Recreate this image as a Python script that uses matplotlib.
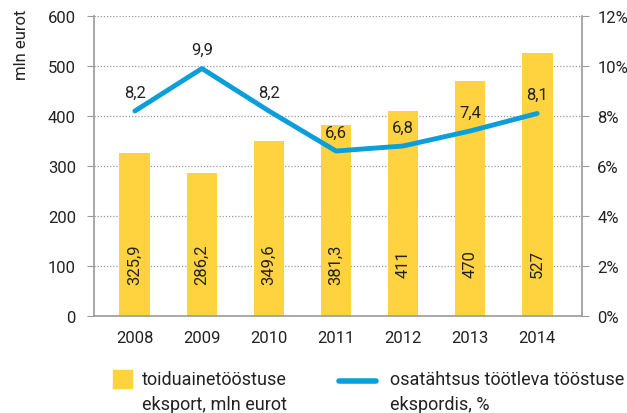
import matplotlib
matplotlib.use("Agg")
import matplotlib.pyplot as plt
from matplotlib.patches import Rectangle
from matplotlib.lines import Line2D

plt.rcParams['font.family'] = ['Roboto', 'DejaVu Sans']

years = ['2008', '2009', '2010', '2011', '2012', '2013', '2014']
export = [325.9, 286.2, 349.6, 381.3, 411, 470, 527]
export_labels = ['325,9', '286,2', '349,6', '381,3', '411', '470', '527']
share = [8.2, 9.9, 8.2, 6.6, 6.8, 7.4, 8.1]
share_labels = ['8,2', '9,9', '8,2', '6,6', '6,8', '7,4', '8,1']

BAR = '#ffd340'
LINE = '#0a9fdb'
GRID = '#9a9a9a'
TXT = '#222222'

W, H = 627, 414


def fx(px):
    return px / W


def fy(py):
    return 1 - py / H


fig = plt.figure(figsize=(6.27, 4.14), dpi=100)
ax = fig.add_axes([fx(94), fy(317), (582 - 94) / W, (317 - 17) / H])
x = list(range(len(years)))

ax.bar(x, export, width=0.46, color=BAR, zorder=2)
for xi, lab in zip(x, export_labels):
    ax.text(xi, 105, lab, rotation=90, ha='center', va='center', fontsize=12, color=TXT, zorder=3)

ax.set_xlim(-0.61, 6.67)
ax.set_ylim(0, 600)
ax.set_yticks(range(0, 601, 100))
ax.set_xticks(x)
ax.set_xticklabels(years)
ax.grid(axis='y', linestyle=(0, (1, 1.5)), color=GRID, linewidth=0.9, zorder=0)
for s in ['top', 'right']:
    ax.spines[s].set_visible(False)
for s in ['left', 'bottom']:
    ax.spines[s].set_color(GRID)
    ax.spines[s].set_linewidth(1.2)
ax.tick_params(axis='y', length=5, color=GRID, labelsize=12, labelcolor=TXT, pad=8)
ax.tick_params(axis='x', length=0, labelsize=12, labelcolor=TXT, pad=10)
fig.text(fx(22), fy(10), 'mln eurot', rotation=90, ha='center', va='top', fontsize=12, color=TXT)

ax2 = ax.twinx()
ax2.plot(x, share, color=LINE, linewidth=3.5, solid_capstyle='round', solid_joinstyle='round', zorder=4)
for xi, v, lab in zip(x, share, share_labels):
    ax2.text(xi, v + 0.75, lab, ha='center', va='center', fontsize=12, color=TXT)
ax2.set_ylim(0, 12)
ax2.set_yticks(range(0, 13, 2))
ax2.set_yticklabels([f'{v}%' for v in range(0, 13, 2)])
for s in ['top', 'left', 'bottom']:
    ax2.spines[s].set_visible(False)
ax2.spines['right'].set_color(GRID)
ax2.spines['right'].set_linewidth(1.2)
ax2.tick_params(axis='y', length=5, color=GRID, labelsize=12, labelcolor=TXT, pad=6)

# legend
fig.patches.append(Rectangle((fx(113), fy(389)), 19 / W, 18 / H, transform=fig.transFigure, color=BAR))
fig.text(fx(142), fy(380), 'toiduainetööstuse', ha='left', va='center', fontsize=13, color=TXT)
fig.text(fx(142), fy(405), 'eksport, mln eurot', ha='left', va='center', fontsize=13, color=TXT)
fig.lines.append(Line2D([fx(339), fx(376)], [fy(382), fy(382)], transform=fig.transFigure,
                        color=LINE, linewidth=4, solid_capstyle='round'))
fig.text(fx(390), fy(380), 'osatähtsus töötleva tööstuse', ha='left', va='center', fontsize=13, color=TXT)
fig.text(fx(390), fy(405), 'ekspordis, %', ha='left', va='center', fontsize=13, color=TXT)

fig.savefig('out.png', dpi=100)
